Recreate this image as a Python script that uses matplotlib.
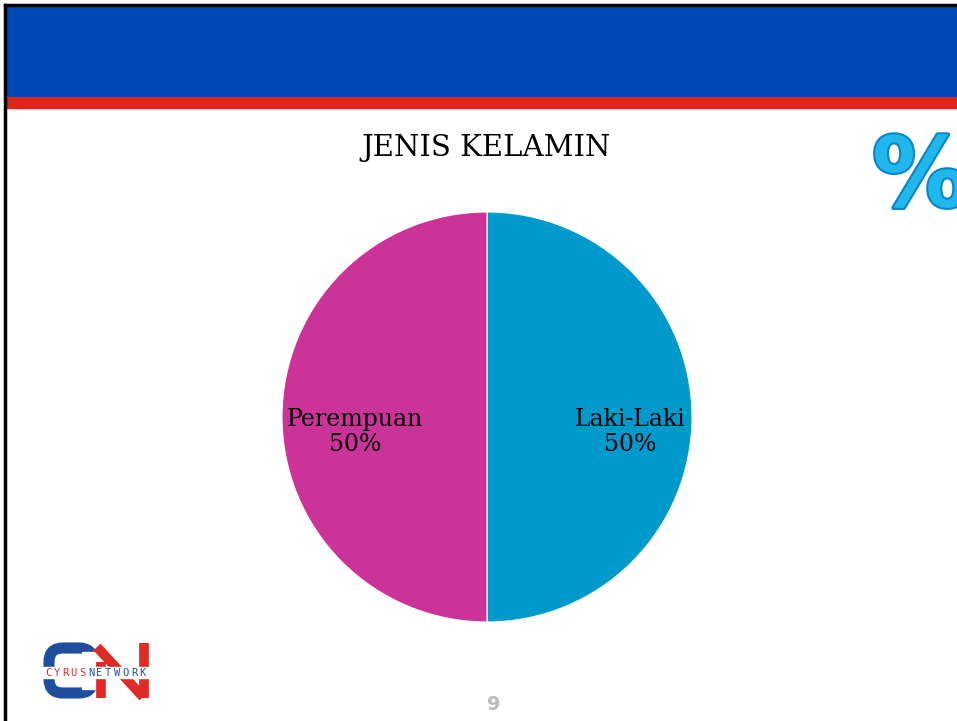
import numpy as np
import matplotlib.pyplot as plt
import matplotlib.patheffects as pe
from matplotlib.patches import Rectangle, FancyBboxPatch

# ---------------- Data ----------------
labels = ["Laki-Laki", "Perempuan"]
values = [50, 50]
colors = ["#0099CC", "#CC3399"]
title = "JENIS KELAMIN"
page_no = "9"

W, H = 957, 721
fig = plt.figure(figsize=(W / 100, H / 100), dpi=100)

# background layer in pixel coordinates
bg = fig.add_axes([0, 0, 1, 1])
bg.set_xlim(0, W)
bg.set_ylim(H, 0)
bg.axis("off")

# header bands
bg.add_patch(Rectangle((5, 6), W, 91, color="#0047B8", zorder=1))
bg.add_patch(Rectangle((5, 97), W, 11, color="#DB261D", zorder=1))
# black frame (top + left)
bg.plot([5, W], [5, 5], color="black", lw=2.5, zorder=3)
bg.plot([5, 5], [5, H], color="black", lw=2.5, zorder=3)

# title
bg.text(486, 148, title, fontsize=21, family="DejaVu Serif",
        ha="center", va="center", color="black")

# big percent sign at top right (cut by the slide edge, as in the original)
bg.text(872, 180, "%", fontsize=70, fontweight="bold", family="DejaVu Sans",
        ha="left", va="center", color="#20B8EC", clip_on=True,
        path_effects=[pe.withStroke(linewidth=3, foreground="#0A86C8")])

# logo (rough)
bg.add_patch(FancyBboxPatch((49, 648), 44, 45, boxstyle="round,pad=0,rounding_size=14",
                            fill=False, ec="#1F4EA1", lw=8, zorder=2))
bg.add_patch(Rectangle((82, 652), 16, 37, color="white", zorder=2))
bg.plot([101, 101], [662, 698], color="#E02A26", lw=7, solid_capstyle="butt", zorder=2)
bg.plot([97, 143], [647, 697], color="#E02A26", lw=7, solid_capstyle="butt", zorder=2)
bg.plot([144, 144], [643, 698], color="#E02A26", lw=7, solid_capstyle="butt", zorder=2)
bg.add_patch(Rectangle((42, 667), 110, 11, color="white", zorder=3))
for i, ch in enumerate("CYRUSNETWORK"):
    bg.text(48 + i * 8.6, 672.5, ch, fontsize=7.5, family="DejaVu Sans Mono",
            ha="center", va="center", zorder=4,
            color="#E02A26" if i < 5 else "#1F4EA1")

# page number
bg.text(494, 704, page_no, fontsize=14, fontweight="bold", color="#BBBBBB",
        ha="center", va="center")

# ---------------- Pie ----------------
cx, cy, r = 487, 417, 205
ax = fig.add_axes([(cx - r) / W, 1 - (cy + r) / H, 2 * r / W, 2 * r / H])
wedges, _ = ax.pie(values, colors=colors, startangle=90, counterclock=False,
                   wedgeprops=dict(linewidth=0.8, edgecolor="white"))
ax.set_xlim(-1, 1)
ax.set_ylim(-1, 1)

for w, lab, v, d in zip(wedges, labels, values, [0.70, 0.645]):
    ang = np.deg2rad((w.theta1 + w.theta2) / 2)
    ax.text(d * np.cos(ang), d * np.sin(ang) - 0.075, f"{lab}\n{v}%",
            fontsize=17, family="DejaVu Serif", ha="center", va="center",
            linespacing=1.1, color="black")

fig.savefig("out.png", dpi=100)
